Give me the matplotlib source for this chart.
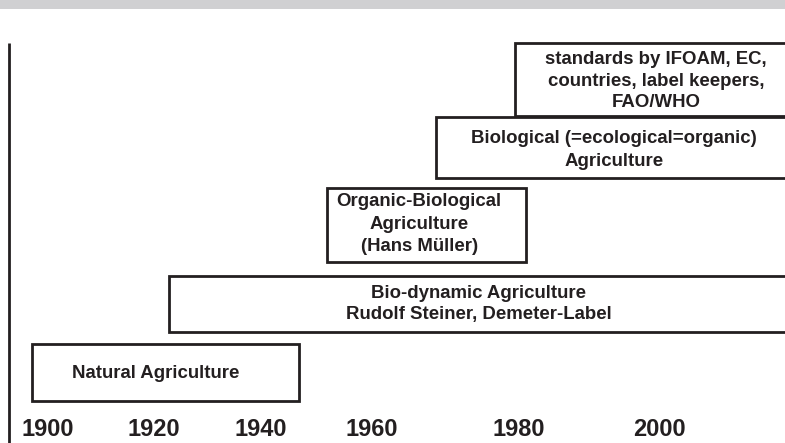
import matplotlib.pyplot as plt
from matplotlib.patches import Rectangle

#%% data
labels = ['Natural Agriculture',
          'Bio-dynamic Agriculture\nRudolf Steiner, Demeter-Label',
          'Organic-Biological\nAgriculture\n(Hans Müller)',
          'Biological (=ecological=organic)\nAgriculture',
          'standards by IFOAM, EC,\ncountries, label keepers,\nFAO/WHO']
start_year = [1897, 1922.8, 1952.5, 1972.9, 1987.8]
end_year = [1947.2, 2045, 1989.9, 2045, 2045]
tick_labels = ['1900', '1920', '1940', '1960', '1980', '2000']

#%% layout (y is pixel rows from top)
row_top = [344, 276, 188, 117, 43]
row_bottom = [401, 332, 262, 178, 116]
text_x = [1920.3, 1981.0, 1969.8, 2006.4, 2014.3]
text_y = [373, 304, 224, 150, 81]
line_sp = [1.2, 1.3, 1.43, 1.45, 1.38]
tick_x = [1900, 1920, 1940.1, 1960.9, 1988.5, 2015.0]

dark = '#231f20'
plt.rcParams['font.family'] = ['Liberation Sans', 'DejaVu Sans']

fig = plt.figure(figsize=(7.85, 4.43), dpi=100)
ax = fig.add_axes([0, 0, 1, 1])
ax.set_xlim(1891.08, 2038.5)
ax.set_ylim(443, 0)
ax.axis('off')

# gray band on top
ax.axhspan(0, 9, color='#d0d0d2', lw=0)

# vertical axis line
ax.plot([1892.8, 1892.8], [43, 443], color=dark, lw=2.0, solid_capstyle='butt')

for i in range(len(labels)):
    ax.add_patch(Rectangle((start_year[i], row_top[i]), end_year[i] - start_year[i],
                           row_bottom[i] - row_top[i], facecolor='white',
                           edgecolor=dark, lw=2.0, zorder=2))
    ax.text(text_x[i], text_y[i], labels[i], ha='center', va='center',
            fontsize=13.4, fontweight='bold', color=dark,
            linespacing=line_sp[i], zorder=3)

for x, t in zip(tick_x, tick_labels):
    ax.text(x, 430, t, ha='center', va='center', fontsize=17,
            fontweight='bold', color=dark)

plt.savefig('out.png', dpi=100)
